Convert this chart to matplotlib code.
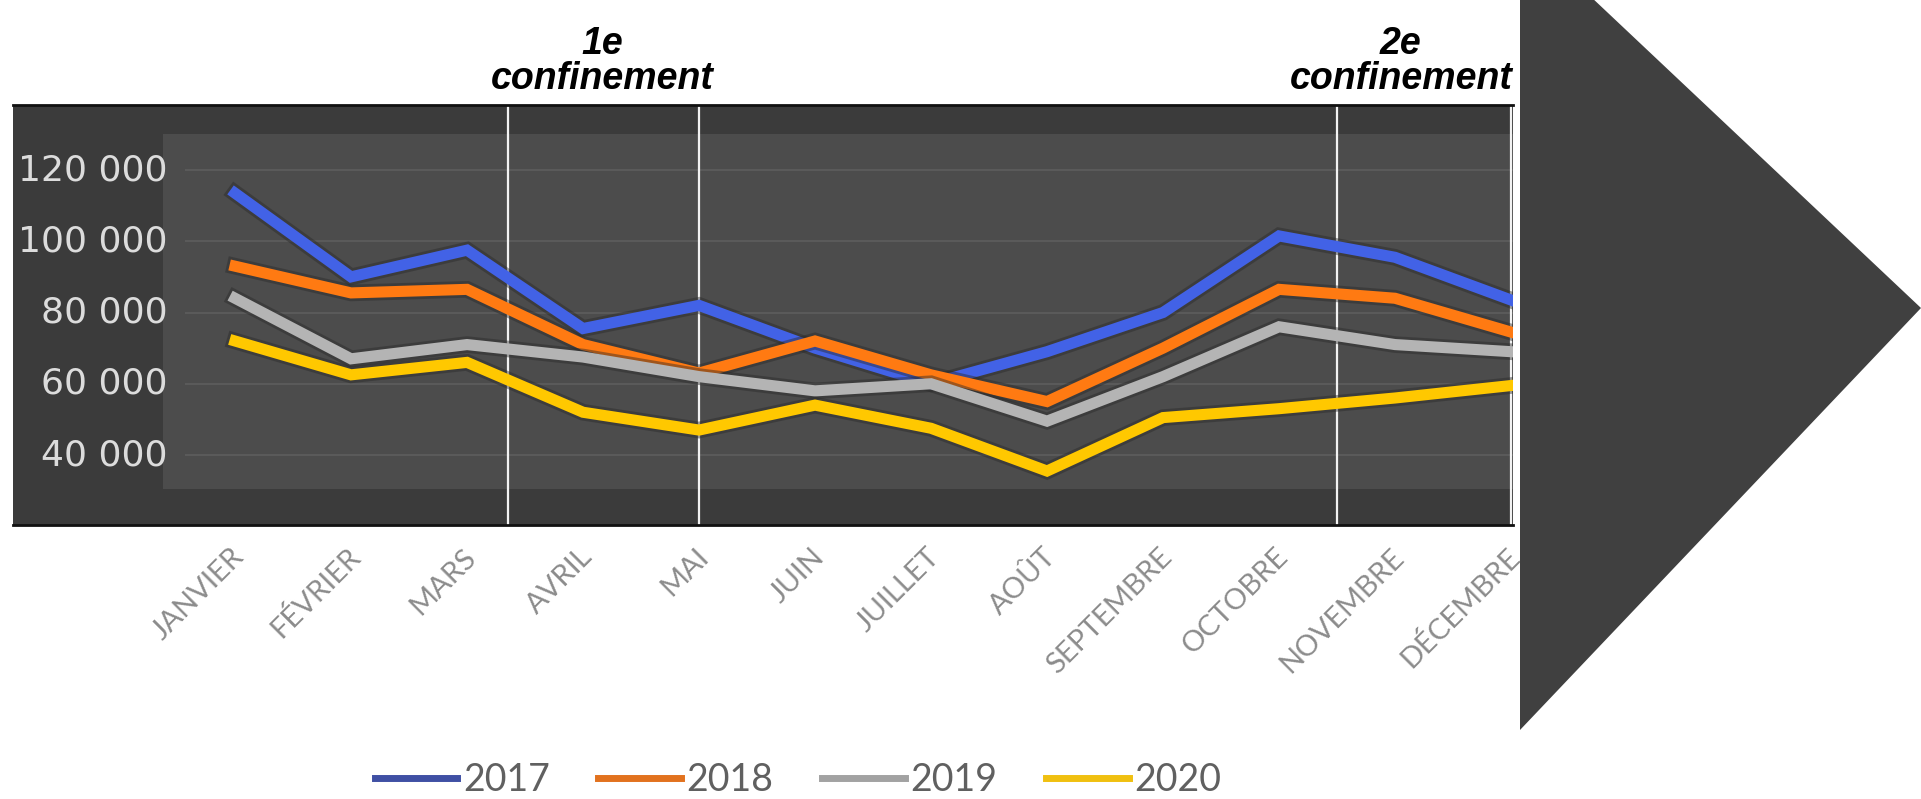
import matplotlib
matplotlib.use("Agg")
import matplotlib.pyplot as plt
import matplotlib.patches as mpatches
import matplotlib.patheffects as pe
import matplotlib.transforms as mtransforms

# --------------------------------------------------
# Data
# --------------------------------------------------
months = ["JANVIER", "FÉVRIER", "MARS", "AVRIL", "MAI", "JUIN", "JUILLET",
          "AOÛT", "SEPTEMBRE", "OCTOBRE", "NOVEMBRE", "DÉCEMBRE"]

y2017 = [113500, 90000, 97500, 75500, 82000, 70000, 60000, 69000, 80000, 101500, 95500, 83500]
y2018 = [93000, 85500, 86500, 71000, 63000, 72000, 62500, 55000, 70000, 86500, 84000, 74500]
y2019 = [84000, 67000, 71000, 67500, 62000, 58000, 60000, 49500, 62000, 76000, 71000, 69000]
y2020 = [72000, 62500, 66000, 52000, 47000, 54000, 47500, 35500, 50500, 53000, 56000, 59500]

series_names = ["2017", "2018", "2019", "2020"]
y_ticks = [40000, 60000, 80000, 100000, 120000]

# lockdown markers (month index) and their labels
lock_lines = [2.35, 4.0, 9.5, 11.0]
lock_labels = [("1e", "confinement", 3.17), ("2e", "confinement", 10.05)]

# --------------------------------------------------
# Styling
# --------------------------------------------------
line_colors = ["#4262e6", "#ff7a12", "#b4b4b4", "#ffc800"]
legend_colors = ["#3f50a4", "#e2721e", "#a2a2a2", "#f0c010"]

W, H = 1921, 799
fig = plt.figure(figsize=(W / 100, H / 100), dpi=100, facecolor="white")

ax_l, ax_r, ax_t, ax_b = 13, 1513, 105, 525
ax = fig.add_axes([ax_l / W, 1 - ax_b / H, (ax_r - ax_l) / W, (ax_b - ax_t) / H])
ax.set_facecolor("#3b3b3b")

# lighter inner plot area
ax.add_patch(mpatches.Rectangle((0.1, 0.085), 0.92, 0.845, transform=ax.transAxes,
                                facecolor="#4c4c4c", edgecolor="none", zorder=0))

x = list(range(len(months)))
ax.set_xlim(-1.914, 11.017)
ax.set_ylim(20350, 138250)

for v in y_ticks:
    ax.axhline(v, xmin=0.115, xmax=1, color="#5a5a5a", lw=1.5, zorder=1)
    ax.text(0.103, v, f"{v:,}".replace(",", " "), transform=ax.get_yaxis_transform(),
            ha="right", va="center", fontsize=26, family=["DejaVu Sans"],
            color="#dcdcdc", clip_on=True, zorder=3)

for xv in lock_lines:
    ax.axvline(xv, color="#f2f2f2", lw=1.6, zorder=2)

for vals, col in zip([y2017, y2018, y2019, y2020], line_colors):
    ax.plot(x, vals, color=col, lw=8, zorder=4, solid_joinstyle="miter",
            path_effects=[pe.Stroke(linewidth=12, foreground="#2a2a2a", alpha=0.45), pe.Normal()])

ax.set_yticks([])
ax.set_xticks(x)
ax.set_xticklabels(months, rotation=45, ha="right", va="center", rotation_mode="anchor",
                   fontsize=21, family=["Lato", "DejaVu Sans"], color="#8c8c8c")
ax.tick_params(axis="x", length=0, pad=20)
shift = mtransforms.ScaledTranslation(5 / 100, 0, fig.dpi_scale_trans)
for lab in ax.get_xticklabels():
    lab.set_transform(lab.get_transform() + shift)

for side in ["left", "right"]:
    ax.spines[side].set_visible(False)
for side in ["top", "bottom"]:
    ax.spines[side].set_color("#111111")
    ax.spines[side].set_linewidth(2)

# lockdown labels above the plot
for top, bottom, xc in lock_labels:
    xf = ax.transData.transform((xc, 0))[0] / W
    fig.text(xf, 1 - 44 / H, top, ha="center", va="center", fontsize=27,
             family="Liberation Sans", weight="bold", style="italic", color="black", zorder=1)
    fig.text(xf, 1 - 79 / H, bottom, ha="center", va="center", fontsize=27,
             family="Liberation Sans", weight="bold", style="italic", color="black", zorder=1)

# big arrow on the right
arrow = mpatches.Polygon([(1520 / W, 1 + 70 / H), (1921 / W, 1 - 308 / H), (1520 / W, 1 - 730 / H)],
                         closed=True, transform=fig.transFigure, facecolor="#404040",
                         edgecolor="none", zorder=10)
fig.add_artist(arrow)

# legend
handles = [plt.Line2D([], [], color=c, lw=5) for c in legend_colors]
leg = fig.legend(handles, series_names, loc="center", bbox_to_anchor=(798 / W, 1 - 780 / H),
                 ncol=4, frameon=False, handlelength=2.2, handletextpad=0.15,
                 columnspacing=1.3, prop={"family": ["Liberation Sans Narrow", "Lato"], "size": 27})
for t in leg.get_texts():
    t.set_color("#606060")

fig.savefig("out.png", dpi=100)
